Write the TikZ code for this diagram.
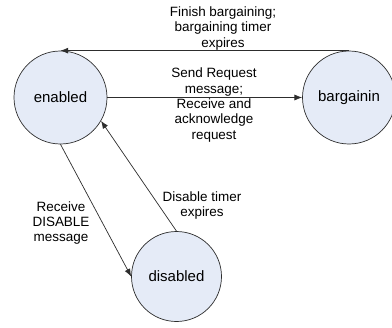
\documentclass[tikz,border=0pt]{standalone}
\usepackage{fontspec}
\setmainfont{Liberation Sans}
\usepackage{xcolor}
\usetikzlibrary{arrows.meta}

\definecolor{statefill}{RGB}{229,235,247}
\definecolor{lineclr}{RGB}{45,45,45}

\begin{document}
\begin{tikzpicture}[
        state/.style={circle, draw=lineclr, line width=0.6pt, fill=statefill, minimum size=2.79cm, inner sep=0pt, font=\fontsize{12.8}{15}\selectfont},
        lbl/.style={align=center, inner sep=0pt, font=\fontsize{11.5}{13.2}\selectfont},
        every edge/.style={draw=lineclr, line width=0.6pt, -{Latex[length=2.3mm, width=1.8mm]}}
    ]
    \useasboundingbox (0,0) rectangle (11.76,9.81);

    % The three states
    \node[state] (enabled) at (1.815,6.885) {enabled};
    \node[state] (bargainin) at (10.47,6.885) {bargainin};
    \node[state, minimum size=2.7cm] (disabled) at (5.295,1.515) {disabled};

    % Transitions between enabled and bargainin
    \draw (bargainin.north) edge (enabled.north);
    \draw (enabled) edge (bargainin);

    % Transitions between enabled and disabled
    \draw (enabled.south) edge (disabled.west);
    \draw (disabled.north) edge (enabled.-30);

    % Labels
    \node[lbl] (finish) at (6.69,8.955) {Finish bargaining;\\bargaining timer\\expires};
    \node[lbl] (send) at (6.42,6.66) {Send Request\\message;\\Receive and\\acknowledge\\request};
    \node[lbl] (recv) at (1.83,3.12) {Receive\\DISABLE\\message};
    \node[lbl] (timer) at (6.06,3.645) {Disable timer\\expires};

\end{tikzpicture}
\end{document}
